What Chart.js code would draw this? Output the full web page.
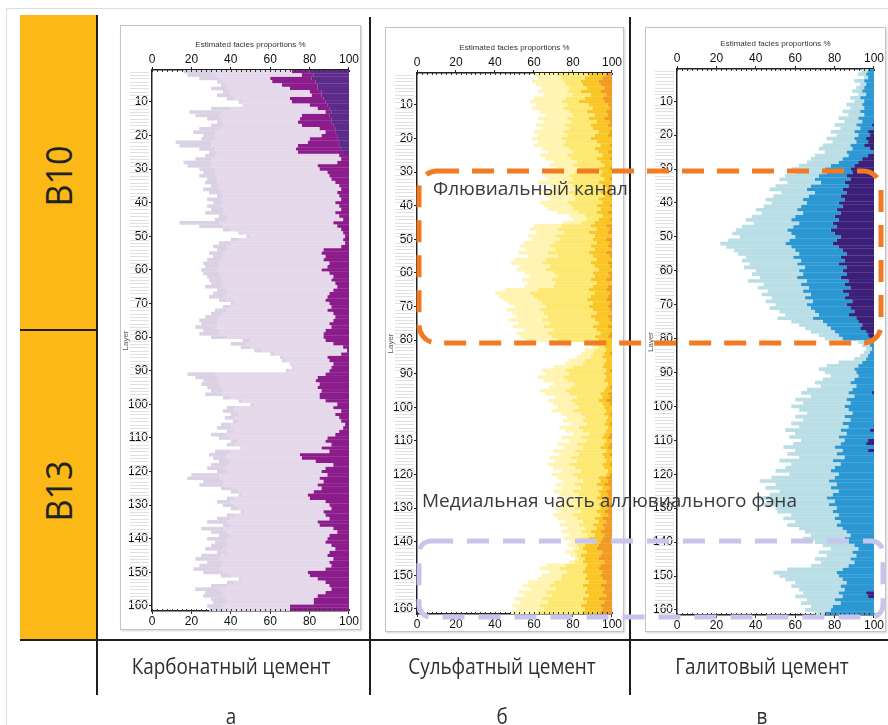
<!DOCTYPE html>
<html>
<head>
<meta charset="utf-8">
<script src="https://cdn.jsdelivr.net/npm/chart.js@4.4.0/dist/chart.umd.min.js"></script>
<style>
  body { margin: 0; background: #fff; }
  #page { position: relative; width: 888px; height: 725px; overflow: hidden; font-family: "Open Sans", sans-serif; }
  .abs { position: absolute; }
  .box { position: absolute; border: 1px solid #c4c4c4; box-shadow: 1px 1px 2px #d6d6d6; background: #fff; }
  .ln { position: absolute; background: #1e1e1e; }
  .cap { position: absolute; font-family: "Liberation Sans Narrow", "Open Sans", sans-serif; font-size: 21px; color: #2e2e2e; transform: translateX(-50%) scaleX(0.9); white-space: nowrap; }
  .note { position: absolute; font-family: "Open Sans", sans-serif; font-size: 19px; color: #3a3a3a; white-space: nowrap; line-height: 22px; }
  .zone { position: absolute; font-family: "Open Sans", sans-serif; font-size: 37px; color: #222; transform: translate(-50%, -50%) rotate(-90deg) scaleX(0.92); white-space: nowrap; }
</style>
</head>
<body>
<div id="page">
  <div class="abs" style="left:6px;top:8px;width:882px;height:720px;border-top:1px solid #dedede;border-left:1px solid #dedede;"></div>
  <div class="abs" style="left:20px;top:15px;width:77px;height:625px;background:#fbb817;"></div>
  <div class="zone" style="left:57px;top:176px;">B10</div>
  <div class="zone" style="left:57px;top:491px;">B13</div>

  <div class="box" style="left:120px;top:25px;width:239px;height:603px;"></div>
  <div class="box" style="left:385px;top:27px;width:237px;height:603px;"></div>
  <div class="box" style="left:645px;top:27px;width:239px;height:603px;"></div>

  <canvas id="chartA" class="abs" style="left:121px;top:26px;" width="238" height="602"></canvas>
  <canvas id="chartB" class="abs" style="left:386px;top:28px;" width="236" height="602"></canvas>
  <canvas id="chartC" class="abs" style="left:646px;top:28px;" width="238" height="602"></canvas>

  <div class="ln" style="left:20px;top:329px;width:77px;height:1.5px;"></div>
  <div class="ln" style="left:96px;top:15px;width:1.5px;height:680px;"></div>
  <div class="ln" style="left:369px;top:17px;width:1.5px;height:678px;"></div>
  <div class="ln" style="left:629px;top:17px;width:1.5px;height:678px;"></div>
  <div class="ln" style="left:20px;top:639px;width:868px;height:1.5px;"></div>

  <svg class="abs" style="left:0;top:0;pointer-events:none" width="888" height="725">
    <rect x="419" y="171" width="462" height="172" rx="18" fill="none" stroke="#f07b22" stroke-width="5" stroke-dasharray="22 13"/>
    <rect x="419" y="541" width="464" height="76" rx="12" fill="none" stroke="#c7c5ec" stroke-width="5" stroke-dasharray="22 14"/>
  </svg>

  <div class="note" style="left:433px;top:177px;">Флювиальный канал</div>
  <div class="note" style="left:422px;top:489px;">Медиальная часть аллювиального фэна</div>

  <div class="cap" style="left:231px;top:652px;">Карбонатный цемент</div>
  <div class="cap" style="left:502px;top:652px;">Сульфатный цемент</div>
  <div class="cap" style="left:762px;top:652px;">Галитовый цемент</div>
  <div class="cap" style="left:231px;top:702px;">а</div>
  <div class="cap" style="left:502px;top:702px;">б</div>
  <div class="cap" style="left:762px;top:702px;">в</div>
</div>

<script>
// layers 1..161, top to bottom
const layers = Array.from({ length: 161 }, (_, i) => i + 1)
const xTicks = [0, 20, 40, 60, 80, 100]

// carbonate cement: boundaries in %
const aLav = [
  16, 18, 24, 33, 35, 30, 36, 33, 38, 44,
  46, 30, 19, 22, 28, 33, 30, 24, 21, 26,
  25, 12, 14, 24, 29, 27, 22, 16, 18, 24,
  26, 24, 28, 27, 30, 26, 29, 33, 28, 31,
  28, 30, 27, 34, 32, 14, 24, 36, 44, 48,
  40, 34, 31, 33, 29, 31, 28, 26, 27, 25,
  26, 28, 29, 30, 27, 33, 31, 29, 34, 40,
  36, 32, 30, 27, 24, 25, 22, 26, 24, 30,
  46, 40, 45, 52, 60, 65, 66, 70, 71, 68,
  18, 22, 26, 25, 28, 30, 27, 36, 44, 50,
  38, 36, 40, 37, 41, 35, 33, 38, 30, 34,
  40, 38, 45, 32, 29, 31, 34, 30, 28, 33,
  20, 18, 26, 24, 35, 40, 44, 38, 33, 36,
  40, 45, 38, 33, 28, 36, 25, 30, 34, 28,
  32, 30, 27, 33, 25, 22, 28, 24, 21, 26,
  35, 44, 38, 30, 22, 27, 26, 30, 31, 28, 29]
const aLight = [
  30, 32, 34, 36, 38, 38, 40, 40, 42, 46,
  46, 40, 36, 34, 35, 36, 36, 34, 32, 32,
  32, 30, 30, 32, 33, 32, 30, 30, 30, 32,
  32, 32, 33, 33, 34, 34, 35, 36, 35, 36,
  35, 36, 36, 38, 38, 34, 36, 40, 46, 50,
  44, 40, 38, 38, 36, 36, 35, 34, 34, 33,
  34, 35, 36, 36, 35, 38, 38, 36, 38, 42,
  40, 38, 36, 34, 33, 33, 32, 34, 34, 38,
  50, 48, 50, 56, 62, 67, 68, 71, 72, 70,
  32, 33, 34, 34, 35, 36, 36, 40, 46, 52,
  42, 42, 44, 42, 44, 40, 40, 42, 38, 40,
  44, 42, 46, 40, 38, 38, 40, 38, 36, 38,
  34, 34, 36, 36, 40, 44, 46, 42, 40, 42,
  44, 47, 42, 40, 38, 40, 36, 38, 40, 38,
  38, 38, 36, 38, 35, 34, 36, 35, 34, 36,
  40, 46, 42, 38, 34, 36, 36, 38, 38, 36, 36]
const aPurple = [
  71, 76, 60, 61, 66, 70, 80, 81, 70, 71,
  80, 84, 88, 76, 75, 74, 76, 85, 88, 86,
  80, 79, 74, 73, 74, 95, 96, 94, 84, 85,
  89, 90, 91, 93, 95, 96, 94, 95, 96, 93,
  95, 96, 93, 95, 97, 92, 94, 96, 97, 98,
  97, 98, 96, 87, 86, 88, 87, 90, 89, 86,
  90, 92, 91, 93, 94, 92, 90, 89, 88, 90,
  91, 89, 92, 93, 92, 90, 91, 88, 87, 87,
  88, 92, 97, 99, 96, 89, 90, 92, 91, 90,
  88, 84, 83, 85, 84, 86, 85, 85, 88, 94,
  92, 96, 93, 95, 96, 98, 97, 95, 93, 89,
  88, 91, 86, 90, 75, 76, 83, 92, 88, 86,
  89, 85, 87, 84, 86, 82, 79, 80, 88, 90,
  91, 87, 88, 90, 84, 85, 92, 94, 90, 89,
  88, 91, 93, 90, 89, 92, 90, 91, 88, 79,
  80, 84, 88, 90, 91, 88, 84, 82, 82, 70, 70]
const aDark = [
  80, 82, 81, 83, 84, 84, 86, 86, 87, 88,
  89, 90, 91, 90, 91, 91, 92, 93, 93, 94,
  94, 95, 95, 96, 97, 100, 100, 100, 100, 100,
  100, 100, 100, 100, 100, 100, 100, 100, 100, 100,
  100, 100, 100, 100, 100, 100, 100, 100, 100, 100,
  100, 100, 100, 100, 100, 100, 100, 100, 100, 100,
  100, 100, 100, 100, 100, 100, 100, 100, 100, 100,
  100, 100, 100, 100, 100, 100, 100, 100, 100, 100,
  100, 100, 100, 100, 100, 100, 100, 100, 100, 100,
  100, 100, 100, 100, 100, 100, 100, 100, 100, 100,
  100, 100, 100, 100, 100, 100, 100, 100, 100, 100,
  100, 100, 100, 100, 100, 100, 100, 100, 100, 100,
  100, 100, 100, 100, 100, 100, 100, 100, 100, 100,
  100, 100, 100, 100, 100, 100, 100, 100, 100, 100,
  100, 100, 100, 100, 100, 100, 100, 100, 100, 100,
  100, 100, 100, 100, 100, 100, 100, 100, 100, 100, 100]

// sulfate cement
const bPale = [
  60, 62, 59, 61, 64, 62, 65, 60, 58, 61,
  59, 63, 66, 62, 65, 61, 64, 60, 62, 59,
  62, 60, 64, 67, 63, 66, 70, 68, 72, 69,
  65, 67, 62, 68, 70, 64, 66, 68, 63, 65,
  67, 72, 78, 80, 75, 60, 58, 61, 57, 59,
  55, 53, 56, 52, 57, 50, 48, 53, 51, 55,
  58, 54, 57, 55, 45, 40, 42, 44, 47, 50,
  46, 49, 51, 47, 52, 49, 55, 51, 53, 56,
  88, 90, 86, 84, 82, 78, 76, 70, 64, 66,
  62, 65, 70, 68, 63, 66, 71, 67, 70, 72,
  69, 74, 77, 75, 79, 73, 76, 80, 74, 78,
  72, 75, 70, 73, 68, 71, 67, 70, 74, 69,
  72, 75, 71, 74, 70, 73, 76, 72, 75, 71,
  74, 70, 72, 76, 73, 77, 74, 78, 75, 79,
  77, 80, 76, 79, 81, 78, 66, 63, 68, 64,
  62, 57, 54, 58, 52, 55, 50, 53, 49, 51, 48]
const bYel = [
  72, 74, 75, 76, 78, 77, 80, 76, 74, 77,
  75, 78, 80, 77, 79, 76, 78, 75, 77, 74,
  76, 75, 78, 80, 77, 79, 82, 80, 83, 81,
  78, 80, 76, 80, 82, 78, 80, 81, 77, 79,
  80, 83, 86, 87, 84, 74, 72, 75, 71, 73,
  70, 68, 71, 67, 72, 66, 64, 68, 66, 70,
  72, 69, 71, 70, 62, 58, 60, 62, 64, 66,
  63, 65, 67, 64, 68, 65, 70, 67, 69, 72,
  92, 93, 91, 90, 89, 86, 85, 80, 76, 78,
  75, 77, 81, 79, 76, 78, 82, 79, 81, 83,
  80, 84, 86, 85, 87, 83, 85, 88, 84, 87,
  82, 85, 81, 83, 79, 82, 78, 81, 84, 80,
  82, 85, 81, 84, 80, 83, 85, 82, 84, 81,
  84, 80, 82, 85, 83, 86, 84, 87, 84, 87,
  82, 83, 81, 82, 83, 81, 76, 73, 77, 74,
  74, 70, 68, 71, 66, 69, 64, 67, 63, 65, 62]
const bOr = [
  88, 86, 84, 85, 87, 84, 89, 86, 83, 88,
  90, 87, 91, 88, 92, 89, 90, 93, 91, 89,
  92, 94, 91, 93, 95, 92, 94, 96, 93, 95,
  94, 96, 93, 95, 97, 94, 96, 93, 95, 92,
  94, 92, 95, 93, 91, 89, 92, 88, 91, 90,
  92, 89, 91, 88, 90, 92, 89, 91, 93, 90,
  91, 89, 92, 90, 88, 91, 89, 87, 90, 88,
  90, 92, 89, 91, 93, 90, 92, 94, 91, 93,
  95, 96, 97, 96, 95, 97, 96, 95, 97, 96,
  97, 96, 98, 97, 96, 94, 95, 93, 95, 96,
  97, 96, 98, 97, 96, 98, 97, 96, 95, 97,
  96, 94, 97, 95, 96, 97, 95, 96, 98, 97,
  93, 94, 92, 95, 93, 94, 92, 95, 93, 94,
  92, 94, 91, 93, 90, 92, 89, 91, 88, 90,
  86, 85, 87, 84, 86, 85, 87, 86, 85, 87,
  86, 88, 85, 87, 86, 88, 85, 87, 84, 86, 85]
const bRed = [
  97, 95, 93, 94, 96, 94, 97, 95, 96, 98,
  99, 97, 98, 96, 99, 98, 100, 99, 98, 100,
  100, 99, 100, 98, 100, 99, 100, 100, 99, 100,
  100, 99, 100, 100, 98, 100, 99, 100, 100, 99,
  100, 98, 100, 99, 100, 97, 99, 98, 100, 97,
  99, 98, 100, 97, 99, 100, 98, 99, 100, 98,
  99, 97, 100, 98, 97, 99, 98, 97, 99, 98,
  99, 100, 98, 99, 100, 98, 100, 99, 98, 100,
  100, 100, 100, 99, 100, 100, 100, 100, 99, 100,
  100, 100, 100, 99, 100, 98, 99, 97, 99, 100,
  100, 99, 100, 100, 99, 100, 100, 99, 98, 100,
  99, 98, 100, 99, 100, 100, 99, 100, 100, 99,
  97, 98, 96, 99, 97, 98, 96, 99, 97, 98,
  96, 98, 95, 97, 95, 96, 94, 96, 95, 94,
  93, 92, 95, 94, 93, 96, 94, 93, 95, 94,
  95, 97, 94, 96, 95, 97, 93, 96, 94, 95, 94]

// halite cement
const cLight = [
  94, 92, 95, 90, 93, 91, 89, 92, 88, 90,
  86, 88, 84, 87, 82, 85, 80, 83, 78, 81,
  76, 79, 74, 72, 75, 70, 68, 66, 62, 58,
  60, 55, 52, 56, 50, 47, 53, 49, 45, 48,
  44, 40, 43, 38, 35, 39, 33, 30, 28, 32,
  26, 22, 25, 29, 31, 35, 33, 37, 34, 40,
  38, 42, 36, 44, 41, 46, 43, 48, 45, 50,
  47, 52, 55, 51, 58, 62, 65, 68, 72, 75,
  92, 94, 96, 95, 93, 90, 82, 76, 72, 75,
  78, 74, 70, 73, 66, 63, 68, 60, 64, 58,
  62, 66, 60, 64, 58, 62, 55, 60, 57, 63,
  59, 54, 60, 56, 62, 52, 58, 55, 50, 57,
  48, 42, 50, 45, 52, 47, 40, 48, 44, 50,
  51, 58, 54, 60, 56, 62, 65, 68, 64, 70,
  74, 78, 72, 76, 70, 73, 68, 56, 49, 52,
  55, 60, 58, 62, 64, 60, 66, 63, 68, 65, 70]
const cBlue = [
  97, 96, 97, 95, 96, 95, 94, 96, 93, 95,
  94, 95, 93, 95, 92, 94, 91, 93, 90, 92,
  90, 91, 88, 89, 86, 87, 84, 82, 78, 75,
  76, 72, 70, 73, 68, 66, 70, 67, 64, 66,
  63, 61, 64, 60, 58, 62, 59, 56, 58, 60,
  57, 55, 58, 60, 62, 59, 63, 61, 65, 62,
  64, 61, 66, 63, 67, 64, 68, 65, 69, 66,
  68, 70, 72, 69, 74, 76, 78, 80, 82, 84,
  97, 98, 99, 98, 97, 96, 94, 92, 90, 91,
  92, 90, 88, 91, 89, 87, 90, 86, 88, 85,
  87, 89, 85, 88, 84, 87, 83, 86, 82, 85,
  83, 80, 84, 81, 85, 79, 83, 80, 78, 82,
  80, 77, 81, 78, 82, 79, 76, 80, 77, 81,
  79, 82, 80, 83, 81, 84, 86, 88, 85, 87,
  90, 92, 89, 91, 88, 90, 87, 84, 81, 82,
  84, 86, 83, 85, 82, 84, 80, 83, 79, 78, 75]
const cDark = [
  100, 100, 100, 100, 100, 100, 100, 100, 100, 100,
  100, 100, 100, 100, 100, 100, 99, 100, 97, 98,
  96, 97, 95, 98, 100, 97, 94, 92, 90, 88,
  89, 86, 88, 85, 87, 84, 86, 83, 85, 82,
  84, 81, 83, 80, 82, 79, 81, 78, 80, 83,
  81, 79, 82, 84, 86, 83, 85, 82, 86, 84,
  86, 83, 87, 85, 88, 84, 87, 85, 89, 86,
  88, 90, 87, 91, 92, 94, 93, 96, 97, 98,
  100, 100, 100, 100, 100, 100, 100, 100, 100, 100,
  100, 100, 100, 100, 100, 99, 100, 100, 100, 100,
  100, 100, 100, 100, 100, 100, 98, 100, 100, 97,
  96, 100, 97, 100, 100, 100, 100, 100, 100, 100,
  100, 100, 100, 100, 100, 100, 100, 100, 100, 100,
  100, 100, 100, 100, 100, 100, 100, 100, 100, 100,
  100, 100, 100, 100, 100, 100, 100, 100, 100, 100,
  100, 100, 100, 100, 96, 97, 100, 100, 100, 100, 100]

const span = (from, to) => from.map((v, i) => [v, to === 100 ? 100 : to[i]])

function band(from, to, color) {
  return {
    data: span(from, to),
    backgroundColor: color,
    borderWidth: 0,
    grouped: false,
    barPercentage: 1.08,
    categoryPercentage: 1
  }
}

// faint layer ticks left of the axis and small ticks on the x axes
const minorTicks = {
  id: 'minorTicks',
  afterDraw(chart) {
    const c = chart.ctx
    const y = chart.scales.y
    const area = chart.chartArea
    c.save()
    c.strokeStyle = '#e0e0e0'
    c.lineWidth = 1
    for (let i = 0; i < layers.length; i++) {
      if ((i + 1) % 10 === 0) continue
      const py = Math.round(y.getPixelForValue(i)) + 0.5
      c.beginPath()
      c.moveTo(area.left - 22, py)
      c.lineTo(area.left - 3, py)
      c.stroke()
    }
    c.strokeStyle = '#333'
    const x = chart.scales.x
    for (let v = 0; v <= 100; v += 2.5) {
      const px = Math.round(x.getPixelForValue(v)) + 0.5
      c.beginPath()
      c.moveTo(px, area.top)
      c.lineTo(px, area.top + 2)
      c.moveTo(px, area.bottom)
      c.lineTo(px, area.bottom - 2)
      c.stroke()
    }
    c.restore()
  }
}

const tickFont = { family: 'Liberation Sans, Arial, sans-serif', size: 12 }

function makePanel(id, datasets, g) {
  new Chart(document.getElementById(id), {
    type: 'bar',
    data: { labels: layers, datasets: datasets },
    options: {
      indexAxis: 'y',
      responsive: false,
      animation: false,
      devicePixelRatio: 1,
      layout: { padding: { top: g.top, right: g.right, bottom: 0, left: 0 } },
      plugins: { legend: { display: false }, tooltip: { enabled: false } },
      scales: {
        x: {
          position: 'top', min: 0, max: 100,
          afterBuildTicks: s => { s.ticks = xTicks.map(v => ({ value: v })) },
          ticks: { padding: 0, font: tickFont, color: '#111', maxRotation: 0 },
          grid: { drawOnChartArea: false, tickLength: 3, color: '#222' },
          border: { color: '#222', width: 1.5 },
          title: { display: true, text: 'Estimated facies proportions %', color: '#333', font: { family: 'Liberation Sans, Arial, sans-serif', size: 8 }, padding: { top: 0, bottom: 2 } },
          afterFit: s => { s.height = 30 }
        },
        x2: {
          type: 'linear', axis: 'x', position: 'bottom', min: 0, max: 100,
          afterBuildTicks: s => { s.ticks = xTicks.map(v => ({ value: v })) },
          ticks: { padding: 0, font: tickFont, color: '#111', maxRotation: 0 },
          grid: { drawOnChartArea: false, tickLength: 3, color: '#222' },
          border: { color: '#222', width: 1.5 },
          afterFit: s => { s.height = g.bottom }
        },
        y: {
          ticks: {
            autoSkip: false, padding: 1, font: tickFont, color: '#111',
            callback: (v, i) => ((i + 1) % 10 === 0 ? String(layers[i]) : '')
          },
          grid: {
            drawOnChartArea: false, offset: false, tickLength: 3,
            color: ctx => ((ctx.index + 1) % 10 === 0 ? '#222' : 'rgba(0,0,0,0)')
          },
          border: { color: '#222', width: 1.5 },
          title: { display: true, text: 'Layer', color: '#555', font: { family: 'Liberation Sans, Arial, sans-serif', size: 8 }, padding: { top: 0, bottom: 0 } },
          afterFit: s => { s.width = 31 }
        }
      }
    },
    plugins: [minorTicks]
  })
}

makePanel('chartA', [
  band(aLav, aLight, '#dad2e4'),
  band(aLight, aPurple, '#e5d8eb'),
  band(aPurple, aDark, '#8c1c8b'),
  band(aDark, 100, '#5c2b8a')
], { top: 14, right: 9, bottom: 17 })

makePanel('chartB', [
  band(bPale, bYel, '#fff4b2'),
  band(bYel, bOr, '#fde872'),
  band(bOr, bRed, '#f9c626'),
  band(bRed, 100, '#f19a24')
], { top: 15, right: 7, bottom: 16 })

makePanel('chartC', [
  band(cLight, cBlue, '#b9dee6'),
  band(cBlue, cDark, '#2b97d3'),
  band(cDark, 100, '#3b1f78')
], { top: 11, right: 8, bottom: 15 })
</script>
</body>
</html>
